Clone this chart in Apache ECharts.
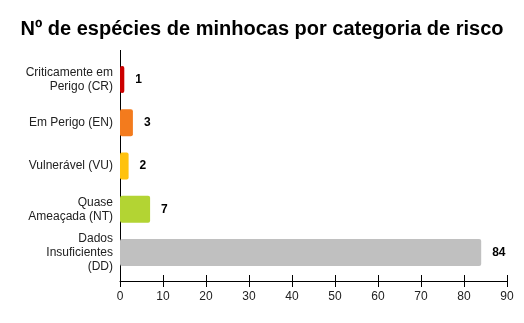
<!DOCTYPE html>
<html>
<head>
<meta charset="utf-8">
<script src="https://cdn.jsdelivr.net/npm/echarts@6/dist/echarts.min.js"></script>
<style>
  html, body { margin: 0; padding: 0; background: #fff; }
  #main { width: 524px; height: 323px; }
</style>
</head>
<body>
<div id="main"></div>
<script>
var chartDom = document.getElementById('main');
var myChart = echarts.init(chartDom);

// dados
const categorias = [
    'Criticamente em\nPerigo (CR)',
    'Em Perigo (EN)',
    'Vulnerável (VU)',
    'Quase\nAmeaçada (NT)',
    'Dados\nInsuficientes\n(DD)'
];
const especies = [1, 3, 2, 7, 84];
const cores = ['#cc0000', '#f37b1d', '#ffc20e', '#b3d433', '#c0c0c0'];
const xTicks = [0, 10, 20, 30, 40, 50, 60, 70, 80, 90];

const fonte = '"Liberation Sans", Arial, sans-serif';

var option = {
    backgroundColor: '#fff',
    animation: false,
    title: {
        text: 'Nº de espécies de minhocas por categoria de risco',
        left: 'center',
        top: 14,
        textStyle: {
            color: '#000',
            fontFamily: fonte,
            fontWeight: 'bold',
            fontSize: 20
        }
    },
    grid: {
        left: 120,
        right: 17,
        top: 58,
        height: 216
    },
    xAxis: [
        {
            type: 'value',
            min: xTicks[0],
            max: xTicks[xTicks.length - 1],
            interval: 10,
            offset: 7,
            axisLine: { show: true, lineStyle: { color: '#000', width: 1 } },
            axisTick: { show: true, length: 6, lineStyle: { color: '#000' } },
            axisLabel: {
                margin: 10,
                color: '#222',
                fontFamily: fonte,
                fontSize: 12
            },
            splitLine: { show: false }
        },
        {
            // ticks acima do eixo
            type: 'value',
            position: 'bottom',
            min: xTicks[0],
            max: xTicks[xTicks.length - 1],
            interval: 10,
            offset: 7,
            axisLine: { show: false },
            axisTick: { show: true, inside: true, length: 6, lineStyle: { color: '#000' } },
            axisLabel: { show: false },
            splitLine: { show: false }
        }
    ],
    yAxis: {
        type: 'category',
        inverse: true,
        data: categorias,
        axisLine: { show: true, lineStyle: { color: '#000', width: 1 } },
        axisTick: { show: false },
        axisLabel: {
            margin: 7,
            color: '#222',
            fontFamily: fonte,
            fontSize: 12,
            lineHeight: 14,
            align: 'right'
        }
    },
    graphic: [
        // prolongamento da linha do eixo y
        { type: 'line', shape: { x1: 120.5, y1: 50, x2: 120.5, y2: 58 }, style: { stroke: '#000', lineWidth: 1 } },
        { type: 'line', shape: { x1: 120.5, y1: 274, x2: 120.5, y2: 281 }, style: { stroke: '#000', lineWidth: 1 } }
    ],
    series: [
        {
            type: 'bar',
            barWidth: 27,
            data: especies.map((v, i) => ({
                value: v,
                itemStyle: { color: cores[i] }
            })),
            itemStyle: { borderRadius: 2 },
            label: {
                show: true,
                position: 'right',
                distance: 11,
                color: '#000',
                fontFamily: fonte,
                fontWeight: 'bold',
                fontSize: 12
            }
        }
    ]
};

myChart.setOption(option);
</script>
</body>
</html>
